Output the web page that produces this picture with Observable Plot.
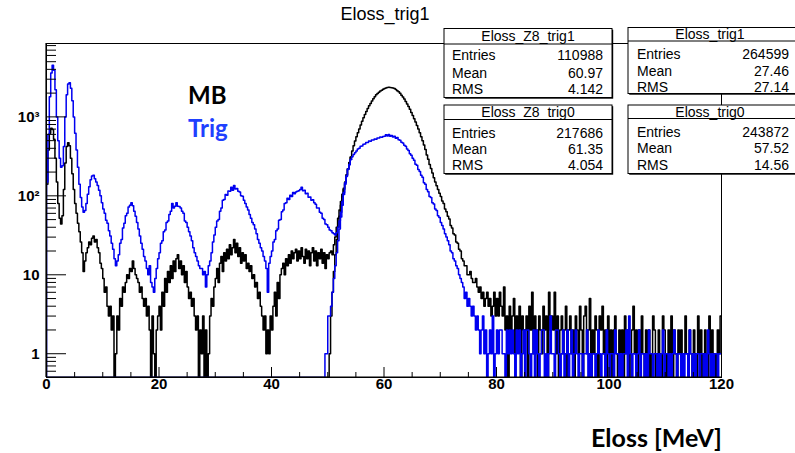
<!DOCTYPE html>
<html><head><meta charset="utf-8">
<script src="https://cdn.jsdelivr.net/npm/d3@7"></script>
<script src="https://cdn.jsdelivr.net/npm/@observablehq/plot@0.6"></script>
<style>html,body{margin:0;padding:0;background:#fff;} svg{display:block}</style>
</head><body><div id="chart"></div>
<script>
// ---------- data ----------
const binWidth = 0.25;               // MeV per bin
const xDomain = [0, 120];
const yDomain = [0.5, 8500];
const xMajorTicks = [0, 20, 40, 60, 80, 100, 120];
const xMinorTicks = [5,10,15,25,30,35,45,50,55,65,70,75,85,90,95,105,110,115];
const yMajorTicks = [1, 10, 100, 1000];
const yTickLabels = ["1", "10", "10²", "10³"];
const yMinorTicks = [0.5,0.6,0.7,0.8,0.9, 2,3,4,5,6,7,8,9, 20,30,40,50,60,70,80,90,
  200,300,400,500,600,700,800,900, 2000,3000,4000,5000,6000,7000,8000];

// MB (Eloss_trig0), counts per bin from 0 MeV
const blackAll = [
  140,380,620,720,690,520,300,150,80,52,44,56,120,260,420,470,430,300,190,120,
  80,60,45,35,26,19,11,15,19,22,26,24,29,31,26,28,22,19,14,12,
  9,6,7,4,3,4,2,3,0,1,3,2,5,4,7,6,8,10,9,12,
  11,15,12,10,9,8,6,7,5,4,5,3,4,2,0,3,1,0,2,3,
  4,2,6,4,9,6,11,8,13,9,15,11,16,18,12,15,10,13,8,11,
  7,5,6,4,5,3,2,3,0,2,1,3,0,2,0,1,3,5,4,7,
  9,12,8,14,17,11,19,15,21,16,24,18,22,28,19,25,17,22,14,19,
  15,18,12,14,11,13,9,10,7,8,5,6,4,3,2,3,1,2,1,3,
  2,4,6,3,8,5,10,12,14,10,16,13,18,14,20,16,19,21,15,20,
  16,22,17,14,21,16,20,13,19,22,15,20,13,19,16,21,14,19,12,18,
  16,19,20,18,24,30,40,52,66,85,105,125,150,185,220,265,310,370,430,495,
  560,630,700,790,880,975,1070,1170,1280,1380,1480,1590,1700,1800,1900,1980,2050,2120,2180,2240,
  2290,2330,2350,2370,2360,2345,2320,2280,2220,2150,2080,1990,1880,1780,1680,1570,1460,1350,1250,1140,
  1040,950,860,780,700,630,560,500,440,385,330,290,250,222,195,170,150,134,120,108,
  98,86,80,68,63,55,51,42,39,33,32,26,25,21,20,16,15,13,13,10,
  10,11,9,8,8,9,7,6,7,5,6,4,5,6,4,5,3,4,6,3,
  5,3,6,4,3,7,2,3,0,4,2,3,5,1,3,2,4,0,3,2,
  2,3,0,4,2,6,1,3,2,0,3,2,1,4,2,3,0,6,2,3,
  2,6,1,3,0,2,3,1,2,4,0,2,3,1,2,0,3,2,1,4,
  2,0,3,4,1,2,5,0,2,1,3,2,0,3,2,4,1,2,0,3,
  1,2,0,2,3,1,0,2,1,2,0,3,1,2,0,1,2,4,1,2,
  0,2,1,3,1,0,2,1,2,0,1,3,2,0,1,2,1,0,3,2,
  1,0,2,1,3,0,2,1,0,2,1,2,0,1,3,1,0,2,1,0,
  2,1,0,3,1,2,0,1,2,1,0,3,1,2,0,1,0,2,1,3
];

// Trig (Eloss_trig1), counts per bin from 0 MeV
const blueAll = [
  150,600,1800,3600,4500,3900,2200,1000,500,300,230,240,420,1000,1900,2600,2700,2300,1600,1000,
  620,380,230,140,95,72,62,65,80,105,130,160,178,182,165,150,135,118,100,82,
  68,60,49,45,36,31,25,21,16,13,15,18,25,28,39,45,56,60,72,76,
  82,75,64,55,46,38,31,25,21,17,15,12,10,13,8,7,6,9,12,16,
  19,25,27,35,37,46,48,58,64,80,70,74,82,74,73,70,64,60,48,46,
  40,35,31,27,22,19,17,15,13,12,12,10,11,7,10,13,15,19,26,32,
  40,48,50,64,70,88,90,104,102,115,114,128,118,135,122,124,114,112,100,99,
  88,80,72,66,58,52,46,43,38,33,28,25,22,20,17,15,12,6,14,17,
  20,26,28,36,38,49,50,63,66,80,82,93,90,102,98,110,106,112,114,116,
  120,128,116,118,106,108,96,97,88,89,82,78,70,70,62,60,52,50,44,43,
  40,37,36,34,33,32,34,40,48,62,84,110,146,180,219,250,288,312,335,352,
  370,392,400,425,428,450,452,474,472,494,490,510,508,525,522,540,540,556,552,565,
  570,592,572,598,568,582,556,568,536,548,512,504,478,468,436,424,392,376,342,326,
  300,282,252,244,216,204,182,172,146,140,120,113,98,95,82,79,68,65,56,53,
  46,42,38,33,30,27,24,20,19,16,15,13,12,10,9,8,7,5,6,4,
  5,4,3,4,3,2,3,2,1,2,3,1,2,0,1,2,1,3,0,1,
  2,1,2,2,1,1,0,2,1,2,1,2,1,0,2,1,2,0,1,2,
  0,2,2,1,0,1,2,0,2,1,0,1,2,2,0,1,0,1,3,1,
  1,0,2,2,1,0,1,2,0,1,2,0,1,2,0,1,2,1,0,1,
  1,0,1,1,2,0,1,0,1,1,0,1,2,1,0,1,1,0,2,1,
  0,1,1,0,2,1,1,0,1,0,1,1,2,0,3,1,0,1,1,0,
  1,2,0,1,1,0,1,0,2,1,1,0,1,1,0,1,0,1,2,0,
  1,1,0,1,0,1,2,1,0,1,1,0,1,0,1,1,0,2,1,0,
  1,0,1,1,0,1,1,0,1,0,2,1,0,1,0,1,1,0,1,1
];

// Z8 histograms: zero below their rising edge, identical to the totals above 54 MeV
const blackZ8Start = 50.25;
const blackZ8Edge = [1,3,6,11,18,28,40,55,76,98,120,146,182,218,263,308];
const blueZ8Start = 49.5;
const blueZ8Edge = [1,1,3,3,4,6,9,13,19,27,38,54,76,104,140,176,216,248,288];

const titleText = "Eloss_trig1";
const statNames = ["Eloss_Z8_trig1", "Eloss_trig1", "Eloss_Z8_trig0", "Eloss_trig0"];
const statLabels = ["Entries", "Mean", "RMS"];
const statEntries = ["110988", "264599", "217686", "243872"];
const statMeans = ["60.97", "27.46", "61.35", "57.52"];
const statRMS = ["4.142", "27.14", "4.054", "14.56"];
const legendLabels = ["MB", "Trig"];
const xAxisTitle = "Eloss [MeV]";

// ---------- build ----------
const BLUE = "#0000f0";
const W = 795, H = 453, mL = 46, mR = 74, mT = 43, mB = 76;
const fw = W - mL - mR, fh = H - mT - mB;
const ff = "'Liberation Sans', Arial, Helvetica, sans-serif";

function histPoints(values, start) {
  const lo = yDomain[0];
  const pts = [{x: 0, y: lo}];
  values.forEach((v, i) => pts.push({x: start + i * binWidth, y: Math.max(v, lo)}));
  pts.push({x: start + values.length * binWidth, y: Math.max(values[values.length - 1], lo)});
  return pts;
}

const lineOpts = (stroke) => ({x: "x", y: "y", curve: "step-after", stroke, strokeWidth: 1.5, clip: true});

const plot = Plot.plot({
  width: W, height: H,
  marginLeft: mL, marginRight: mR, marginTop: mT, marginBottom: mB,
  style: {fontFamily: ff, background: "#fff", color: "#000"},
  x: {domain: xDomain, axis: null},
  y: {type: "log", domain: yDomain, axis: null},
  marks: [
    Plot.line(histPoints(blackAll, 0), lineOpts("#000")),
    Plot.line(histPoints(blackZ8Edge, blackZ8Start), lineOpts("#000")),
    Plot.line(histPoints(blueAll, 0), lineOpts(BLUE)),
    Plot.line(histPoints(blueZ8Edge, blueZ8Start), lineOpts(BLUE)),
    Plot.frame({stroke: "#000", strokeWidth: 1}),
    Plot.ruleX(xMajorTicks, {x: d => d, insetTop: fh - 10, stroke: "#000", strokeWidth: 1}),
    Plot.ruleX(xMinorTicks, {x: d => d, insetTop: fh - 5, stroke: "#000", strokeWidth: 1}),
    Plot.ruleY(yMajorTicks, {y: d => d, insetRight: fw - 20, stroke: "#000", strokeWidth: 1}),
    Plot.ruleY(yMinorTicks, {y: d => d, insetRight: fw - 10, stroke: "#000", strokeWidth: 1}),
    Plot.text(xMajorTicks, {x: d => d, frameAnchor: "bottom", dy: 11, text: d => String(d),
      fontSize: 15, fontWeight: "bold", fill: "#000"}),
    Plot.text(yMajorTicks, {y: d => d, frameAnchor: "left", dx: -7, textAnchor: "end",
      text: (d, i) => yTickLabels[i], fontSize: 15, fontWeight: "bold", fill: "#000"})
  ]
});

document.getElementById("chart").appendChild(plot);
const svg = d3.select(plot);

// axis lines slightly heavier
svg.append("line").attr("x1", mL).attr("x2", W - mR).attr("y1", H - mB).attr("y2", H - mB)
  .attr("stroke", "#000").attr("stroke-width", 1.2);
svg.append("line").attr("x1", mL).attr("x2", mL).attr("y1", mT).attr("y2", H - mB)
  .attr("stroke", "#000").attr("stroke-width", 1.2);

// title
svg.append("text").attr("x", 385).attr("y", 20).attr("text-anchor", "middle")
  .attr("font-family", ff).attr("font-size", 18).attr("fill", "#000").text(titleText);

// stat boxes
const boxes = [
  {x0: 444, x1: 612, y0: 28.5, yd: 44,    y1: 97.5,  ty: 41,    rows: [60, 77.5, 94],     lx: 452, vx: 603, tx: 528},
  {x0: 628, x1: 800, y0: 27.5, yd: 41,    y1: 93.5,  ty: 39,    rows: [58.5, 76, 92],     lx: 637, vx: 789, tx: 710},
  {x0: 444, x1: 612, y0: 105,  yd: 119.5, y1: 173.5, ty: 116.5, rows: [137.5, 153.5, 170], lx: 452, vx: 603, tx: 528},
  {x0: 628, x1: 800, y0: 105,  yd: 118.5, y1: 173.5, ty: 116.5, rows: [136.5, 153, 169.5], lx: 637, vx: 789, tx: 710}
];
boxes.forEach((b, k) => {
  const g = svg.append("g").attr("font-family", ff).attr("font-size", 14).attr("fill", "#000");
  g.append("rect").attr("x", b.x0 + 1.2).attr("y", b.y0 + 1.2).attr("width", b.x1 - b.x0).attr("height", b.y1 - b.y0)
    .attr("fill", "#000");
  g.append("rect").attr("x", b.x0).attr("y", b.y0).attr("width", b.x1 - b.x0).attr("height", b.y1 - b.y0)
    .attr("fill", "#fff").attr("stroke", "#000").attr("stroke-width", 1);
  g.append("line").attr("x1", b.x0).attr("x2", b.x1).attr("y1", b.yd).attr("y2", b.yd)
    .attr("stroke", "#000").attr("stroke-width", 1);
  g.append("text").attr("x", b.tx).attr("y", b.ty).attr("text-anchor", "middle").text(statNames[k]);
  const vals = [statEntries[k], statMeans[k], statRMS[k]];
  statLabels.forEach((lab, r) => {
    g.append("text").attr("x", b.lx).attr("y", b.rows[r]).attr("text-anchor", "start").text(lab);
    g.append("text").attr("x", b.vx).attr("y", b.rows[r]).attr("text-anchor", "end").text(vals[r]);
  });
});

// legend-like annotations
const lf = "Lato, 'Open Sans', sans-serif";
svg.append("text").attr("x", 188).attr("y", 104).attr("text-anchor", "start").attr("font-family", lf)
  .attr("font-weight", "bold").attr("font-size", 24).attr("fill", "#000").text(legendLabels[0]);
svg.append("text").attr("x", 188).attr("y", 137).attr("text-anchor", "start").attr("font-family", lf)
  .attr("font-weight", "bold").attr("font-size", 24).attr("fill", "#1f40ff").text(legendLabels[1]);
svg.append("text").attr("x", 591).attr("y", 447).attr("text-anchor", "start").attr("font-family", lf)
  .attr("font-weight", "bold").attr("font-size", 25).attr("fill", "#000").text(xAxisTitle);
</script>
</body></html>
